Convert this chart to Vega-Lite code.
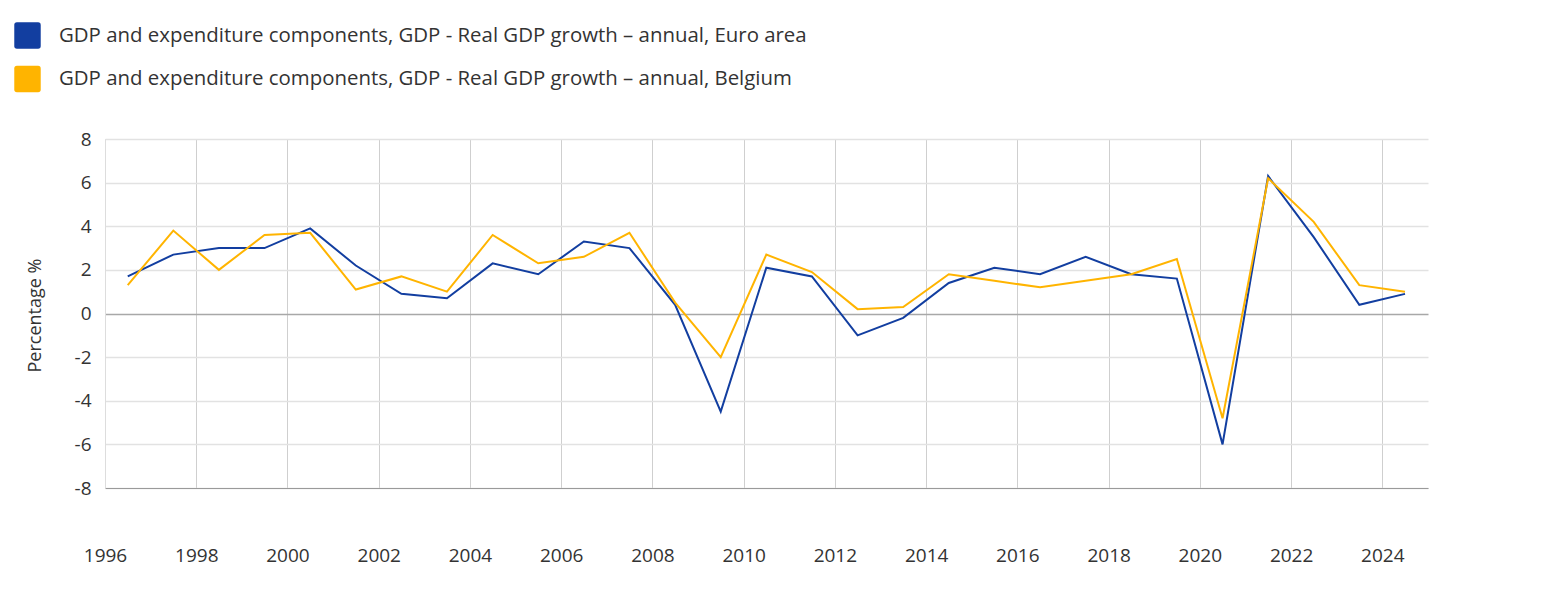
{
  "$schema": "https://vega.github.io/schema/vega-lite/v6.json",
  "width": 1323,
  "height": 349,
  "autosize": {"type": "none"},
  "padding": {"left": 105, "top": 139, "right": 116, "bottom": 122},
  "background": "#ffffff",
  "config": {
    "view": {"stroke": null},
    "font": "Open Sans",
    "axis": {"labelFont": "Open Sans", "titleFont": "Open Sans", "labelColor": "#333333", "titleColor": "#333333"},
    "legend": {"labelFont": "Open Sans"}
  },
  "data": {
    "values": [
      {"date": "1996-07-01", "series": "GDP and expenditure components, GDP - Real GDP growth – annual, Euro area", "value": 1.7},
      {"date": "1997-07-01", "series": "GDP and expenditure components, GDP - Real GDP growth – annual, Euro area", "value": 2.7},
      {"date": "1998-07-01", "series": "GDP and expenditure components, GDP - Real GDP growth – annual, Euro area", "value": 3.0},
      {"date": "1999-07-01", "series": "GDP and expenditure components, GDP - Real GDP growth – annual, Euro area", "value": 3.0},
      {"date": "2000-07-01", "series": "GDP and expenditure components, GDP - Real GDP growth – annual, Euro area", "value": 3.9},
      {"date": "2001-07-01", "series": "GDP and expenditure components, GDP - Real GDP growth – annual, Euro area", "value": 2.2},
      {"date": "2002-07-01", "series": "GDP and expenditure components, GDP - Real GDP growth – annual, Euro area", "value": 0.9},
      {"date": "2003-07-01", "series": "GDP and expenditure components, GDP - Real GDP growth – annual, Euro area", "value": 0.7},
      {"date": "2004-07-01", "series": "GDP and expenditure components, GDP - Real GDP growth – annual, Euro area", "value": 2.3},
      {"date": "2005-07-01", "series": "GDP and expenditure components, GDP - Real GDP growth – annual, Euro area", "value": 1.8},
      {"date": "2006-07-01", "series": "GDP and expenditure components, GDP - Real GDP growth – annual, Euro area", "value": 3.3},
      {"date": "2007-07-01", "series": "GDP and expenditure components, GDP - Real GDP growth – annual, Euro area", "value": 3.0},
      {"date": "2008-07-01", "series": "GDP and expenditure components, GDP - Real GDP growth – annual, Euro area", "value": 0.4},
      {"date": "2009-07-01", "series": "GDP and expenditure components, GDP - Real GDP growth – annual, Euro area", "value": -4.5},
      {"date": "2010-07-01", "series": "GDP and expenditure components, GDP - Real GDP growth – annual, Euro area", "value": 2.1},
      {"date": "2011-07-01", "series": "GDP and expenditure components, GDP - Real GDP growth – annual, Euro area", "value": 1.7},
      {"date": "2012-07-01", "series": "GDP and expenditure components, GDP - Real GDP growth – annual, Euro area", "value": -1.0},
      {"date": "2013-07-01", "series": "GDP and expenditure components, GDP - Real GDP growth – annual, Euro area", "value": -0.2},
      {"date": "2014-07-01", "series": "GDP and expenditure components, GDP - Real GDP growth – annual, Euro area", "value": 1.4},
      {"date": "2015-07-01", "series": "GDP and expenditure components, GDP - Real GDP growth – annual, Euro area", "value": 2.1},
      {"date": "2016-07-01", "series": "GDP and expenditure components, GDP - Real GDP growth – annual, Euro area", "value": 1.8},
      {"date": "2017-07-01", "series": "GDP and expenditure components, GDP - Real GDP growth – annual, Euro area", "value": 2.6},
      {"date": "2018-07-01", "series": "GDP and expenditure components, GDP - Real GDP growth – annual, Euro area", "value": 1.8},
      {"date": "2019-07-01", "series": "GDP and expenditure components, GDP - Real GDP growth – annual, Euro area", "value": 1.6},
      {"date": "2020-07-01", "series": "GDP and expenditure components, GDP - Real GDP growth – annual, Euro area", "value": -6.0},
      {"date": "2021-07-01", "series": "GDP and expenditure components, GDP - Real GDP growth – annual, Euro area", "value": 6.3},
      {"date": "2022-07-01", "series": "GDP and expenditure components, GDP - Real GDP growth – annual, Euro area", "value": 3.5},
      {"date": "2023-07-01", "series": "GDP and expenditure components, GDP - Real GDP growth – annual, Euro area", "value": 0.4},
      {"date": "2024-07-01", "series": "GDP and expenditure components, GDP - Real GDP growth – annual, Euro area", "value": 0.9},
      {"date": "1996-07-01", "series": "GDP and expenditure components, GDP - Real GDP growth – annual, Belgium", "value": 1.3},
      {"date": "1997-07-01", "series": "GDP and expenditure components, GDP - Real GDP growth – annual, Belgium", "value": 3.8},
      {"date": "1998-07-01", "series": "GDP and expenditure components, GDP - Real GDP growth – annual, Belgium", "value": 2.0},
      {"date": "1999-07-01", "series": "GDP and expenditure components, GDP - Real GDP growth – annual, Belgium", "value": 3.6},
      {"date": "2000-07-01", "series": "GDP and expenditure components, GDP - Real GDP growth – annual, Belgium", "value": 3.7},
      {"date": "2001-07-01", "series": "GDP and expenditure components, GDP - Real GDP growth – annual, Belgium", "value": 1.1},
      {"date": "2002-07-01", "series": "GDP and expenditure components, GDP - Real GDP growth – annual, Belgium", "value": 1.7},
      {"date": "2003-07-01", "series": "GDP and expenditure components, GDP - Real GDP growth – annual, Belgium", "value": 1.0},
      {"date": "2004-07-01", "series": "GDP and expenditure components, GDP - Real GDP growth – annual, Belgium", "value": 3.6},
      {"date": "2005-07-01", "series": "GDP and expenditure components, GDP - Real GDP growth – annual, Belgium", "value": 2.3},
      {"date": "2006-07-01", "series": "GDP and expenditure components, GDP - Real GDP growth – annual, Belgium", "value": 2.6},
      {"date": "2007-07-01", "series": "GDP and expenditure components, GDP - Real GDP growth – annual, Belgium", "value": 3.7},
      {"date": "2008-07-01", "series": "GDP and expenditure components, GDP - Real GDP growth – annual, Belgium", "value": 0.5},
      {"date": "2009-07-01", "series": "GDP and expenditure components, GDP - Real GDP growth – annual, Belgium", "value": -2.0},
      {"date": "2010-07-01", "series": "GDP and expenditure components, GDP - Real GDP growth – annual, Belgium", "value": 2.7},
      {"date": "2011-07-01", "series": "GDP and expenditure components, GDP - Real GDP growth – annual, Belgium", "value": 1.9},
      {"date": "2012-07-01", "series": "GDP and expenditure components, GDP - Real GDP growth – annual, Belgium", "value": 0.2},
      {"date": "2013-07-01", "series": "GDP and expenditure components, GDP - Real GDP growth – annual, Belgium", "value": 0.3},
      {"date": "2014-07-01", "series": "GDP and expenditure components, GDP - Real GDP growth – annual, Belgium", "value": 1.8},
      {"date": "2015-07-01", "series": "GDP and expenditure components, GDP - Real GDP growth – annual, Belgium", "value": 1.5},
      {"date": "2016-07-01", "series": "GDP and expenditure components, GDP - Real GDP growth – annual, Belgium", "value": 1.2},
      {"date": "2017-07-01", "series": "GDP and expenditure components, GDP - Real GDP growth – annual, Belgium", "value": 1.5},
      {"date": "2018-07-01", "series": "GDP and expenditure components, GDP - Real GDP growth – annual, Belgium", "value": 1.8},
      {"date": "2019-07-01", "series": "GDP and expenditure components, GDP - Real GDP growth – annual, Belgium", "value": 2.5},
      {"date": "2020-07-01", "series": "GDP and expenditure components, GDP - Real GDP growth – annual, Belgium", "value": -4.8},
      {"date": "2021-07-01", "series": "GDP and expenditure components, GDP - Real GDP growth – annual, Belgium", "value": 6.2},
      {"date": "2022-07-01", "series": "GDP and expenditure components, GDP - Real GDP growth – annual, Belgium", "value": 4.2},
      {"date": "2023-07-01", "series": "GDP and expenditure components, GDP - Real GDP growth – annual, Belgium", "value": 1.3},
      {"date": "2024-07-01", "series": "GDP and expenditure components, GDP - Real GDP growth – annual, Belgium", "value": 1.0}
    ]
  },
  "mark": {"type": "line", "strokeWidth": 2, "strokeJoin": "miter"},
  "encoding": {
    "x": {
      "field": "date",
      "type": "temporal",
      "scale": {"type": "utc", "domain": [{"year": 1996, "month": 1, "date": 1, "utc": true}, {"year": 2025, "month": 1, "date": 1, "utc": true}]},
      "axis": {
        "title": null,
        "values": [
          {"year": 1996, "month": 1, "date": 1, "utc": true},
          {"year": 1998, "month": 1, "date": 1, "utc": true},
          {"year": 2000, "month": 1, "date": 1, "utc": true},
          {"year": 2002, "month": 1, "date": 1, "utc": true},
          {"year": 2004, "month": 1, "date": 1, "utc": true},
          {"year": 2006, "month": 1, "date": 1, "utc": true},
          {"year": 2008, "month": 1, "date": 1, "utc": true},
          {"year": 2010, "month": 1, "date": 1, "utc": true},
          {"year": 2012, "month": 1, "date": 1, "utc": true},
          {"year": 2014, "month": 1, "date": 1, "utc": true},
          {"year": 2016, "month": 1, "date": 1, "utc": true},
          {"year": 2018, "month": 1, "date": 1, "utc": true},
          {"year": 2020, "month": 1, "date": 1, "utc": true},
          {"year": 2022, "month": 1, "date": 1, "utc": true},
          {"year": 2024, "month": 1, "date": 1, "utc": true}
        ],
        "format": "%Y",
        "formatType": "utc",
        "labelFontSize": 19,
        "labelPadding": 58,
        "labelFlush": false,
        "labelOverlap": false,
        "labelAngle": 0,
        "ticks": false,
        "domain": true,
        "domainColor": "#9a9a9a",
        "domainWidth": 1,
        "grid": true,
        "gridColor": "#cfcfcf",
        "gridWidth": 1
      }
    },
    "y": {
      "field": "value",
      "type": "quantitative",
      "scale": {"domain": [-8, 8], "nice": false, "zero": false},
      "axis": {
        "title": "Percentage %",
        "titleFontSize": 18,
        "titleFontWeight": "normal",
        "titleX": -70,
        "titleY": 176,
        "titleAlign": "center",
        "titleBaseline": "middle",
        "titleAngle": -90,
        "values": [-8, -6, -4, -2, 0, 2, 4, 6, 8],
        "labelExpr": "'' + datum.value",
        "labelFontSize": 19,
        "labelPadding": 14,
        "ticks": false,
        "domain": true,
        "domainColor": "#dddddd",
        "grid": true,
        "gridColor": {"condition": {"test": "datum.value === 0", "value": "#a8a8a8"}, "value": "#e2e2e2"},
        "gridWidth": 1.5
      }
    },
    "color": {
      "field": "series",
      "type": "nominal",
      "sort": [
        "GDP and expenditure components, GDP - Real GDP growth – annual, Euro area",
        "GDP and expenditure components, GDP - Real GDP growth – annual, Belgium"
      ],
      "scale": {"range": ["#123ea0", "#ffb400"]},
      "legend": {
        "title": null,
        "orient": "none",
        "legendX": -91,
        "legendY": -117,
        "padding": 0,
        "direction": "vertical",
        "symbolType": "M -0.8,-1 L 0.8,-1 Q 1,-1 1,-0.8 L 1,0.8 Q 1,1 0.8,1 L -0.8,1 Q -1,1 -1,0.8 L -1,-0.8 Q -1,-1 -0.8,-1 Z",
        "symbolSize": 700,
        "symbolStrokeWidth": 0,
        "symbolOpacity": 1,
        "labelFontSize": 20.4,
        "labelColor": "#333333",
        "labelOffset": 18,
        "labelLimit": 1200,
        "rowPadding": 16.5,
        "encode": {
          "symbols": {"update": {"fill": {"scale": "color", "field": "value"}, "strokeWidth": {"value": 0}}}
        }
      }
    }
  }
}
